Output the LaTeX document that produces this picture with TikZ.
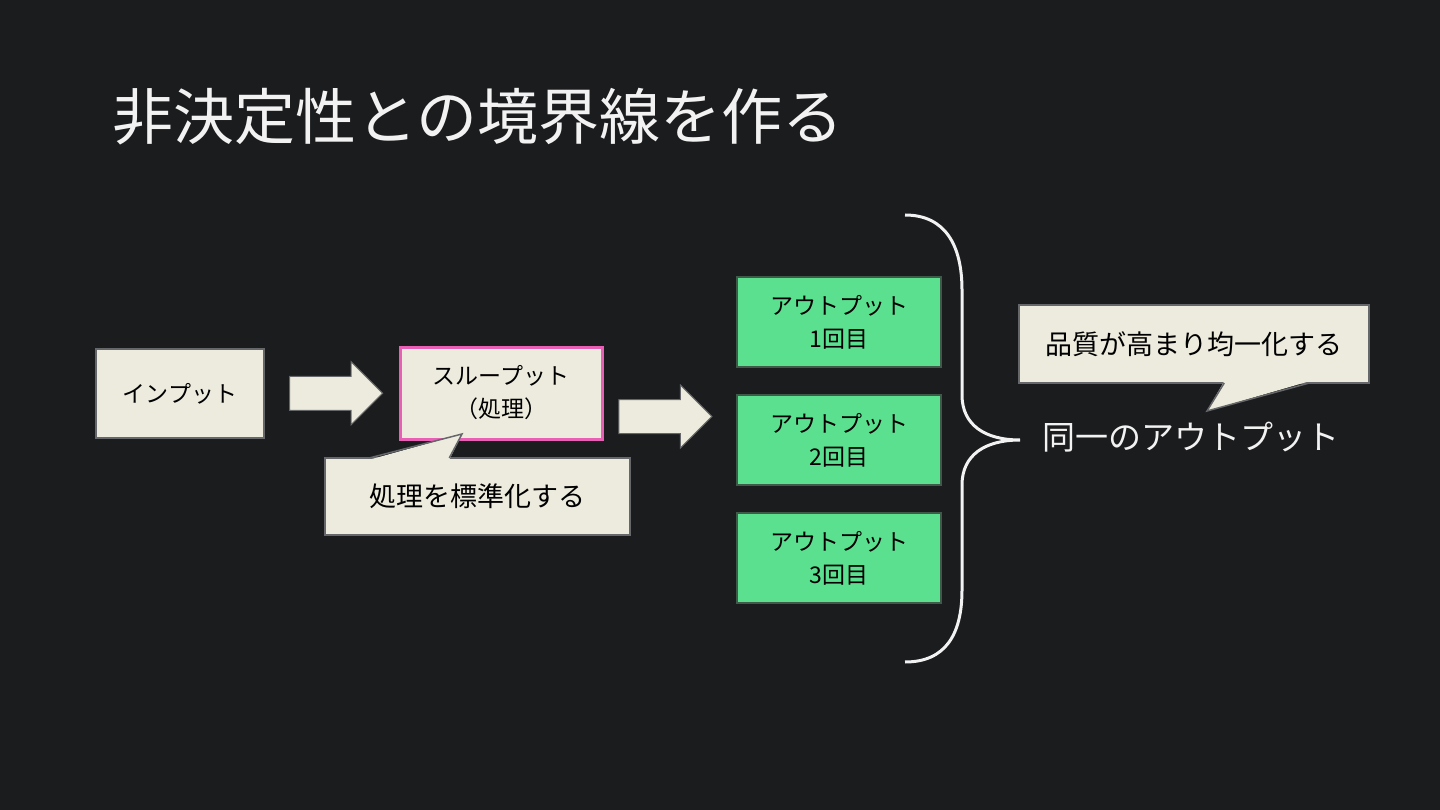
\documentclass[tikz,border=0pt]{standalone}
\usepackage{fontspec}
\setmainfont{Noto Sans CJK JP}
\usepackage{tikz}
\usetikzlibrary{positioning,calc,shapes.arrows}
\definecolor{slidebg}{HTML}{1B1C1E}
\definecolor{paper}{HTML}{EDEBDD}
\definecolor{edge}{HTML}{66676A}
\definecolor{mint}{HTML}{5BE08F}
\definecolor{mintedge}{HTML}{3F5A48}
\definecolor{rose}{HTML}{EA5FB6}
\definecolor{chalk}{HTML}{F2F2F2}

\begin{document}
\begin{tikzpicture}[
  x=1pt, y=-1pt,
  box/.style={draw=edge, line width=1.5pt, fill=paper, inner sep=0pt, align=center,
    font=\fontsize{23}{33}\selectfont},
  outbox/.style={box, fill=mint, draw=mintedge, minimum width=204pt, minimum height=90pt},
  note/.style={draw=edge, line width=1.5pt, fill=paper, inner sep=0pt,
    font=\fontsize{27}{30}\selectfont},
  blockarrow/.style={single arrow, draw=edge, line width=1pt, fill=paper,
    inner xsep=0pt, inner ysep=16.5pt, text height=0pt, text depth=0pt,
    single arrow head extend=14.5pt, single arrow head indent=0pt, minimum height=93pt},
  bracket/.style={draw=chalk, line width=3pt}
]
  % Slide background
  \fill[slidebg] (0,0) rectangle (1440,810);

  % Title
  \node[anchor=west, inner sep=0pt, text=chalk, font=\fontsize{61}{61}\selectfont]
    (title) at (112,117) {非決定性との境界線を作る};

  % Input and throughput
  \node[box, minimum width=168pt, minimum height=89pt] (in) at (180,393.5) {インプット};
  \node[box, draw=rose, line width=3pt, minimum width=202pt, minimum height=92pt]
    (thru) at (501,393) {スループット\\（処理）};

  % Outputs
  \node[outbox] (out1) at (839,322) {アウトプット\\1回目};
  \node[outbox] (out2) at (839,440) {アウトプット\\2回目};
  \node[outbox] (out3) at (839,558) {アウトプット\\3回目};

  % Block arrows between the stages
  \node[blockarrow] (a1) at ($(in.east)!0.5!(thru.west)+(-4,0)$) {};
  \node[blockarrow] (a2) at ($(thru.east)!0.5!(out2.west)+(-13,0)$) {};

  % Callout under the throughput
  \node[note, minimum width=305pt, minimum height=77pt] (std) at (477.5,496.5) {処理を標準化する};
  \coordinate (stdtip) at (462,434);
  \fill[paper] ($(std.north west)+(45,2.5)$) -- (stdtip) -- ($(std.north west)+(125,2.5)$) -- cycle;
  \draw[edge, line width=1.5pt] ($(std.north west)+(45,0.75)$) -- (stdtip)
    -- ($(std.north west)+(125,0.75)$);

  % Brace round the outputs
  \draw[bracket] (905,215) .. controls (945,215) and (962,245) .. (962,290)
    -- (962,395) .. controls (962,425) and (985,440) .. (1020,440)
    .. controls (985,440) and (962,455) .. (962,485)
    -- (962,590) .. controls (962,635) and (945,662) .. (905,662);

  \node[anchor=west, inner sep=0pt, text=chalk, font=\fontsize{33}{33}\selectfont]
    (same) at (1042,437) {同一のアウトプット};

  % Callout above the result
  \node[note, minimum width=350pt, minimum height=78pt] (qual) at (1194,344) {品質が高まり均一化する};
  \coordinate (qualtip) at (1207,411);
  \fill[paper] ($(qual.south west)+(206,-2.5)$) -- (qualtip) -- ($(qual.south west)+(291,-2.5)$) -- cycle;
  \draw[edge, line width=1.5pt] ($(qual.south west)+(206,-0.75)$) -- (qualtip)
    -- ($(qual.south west)+(291,-0.75)$);
\end{tikzpicture}
\end{document}
